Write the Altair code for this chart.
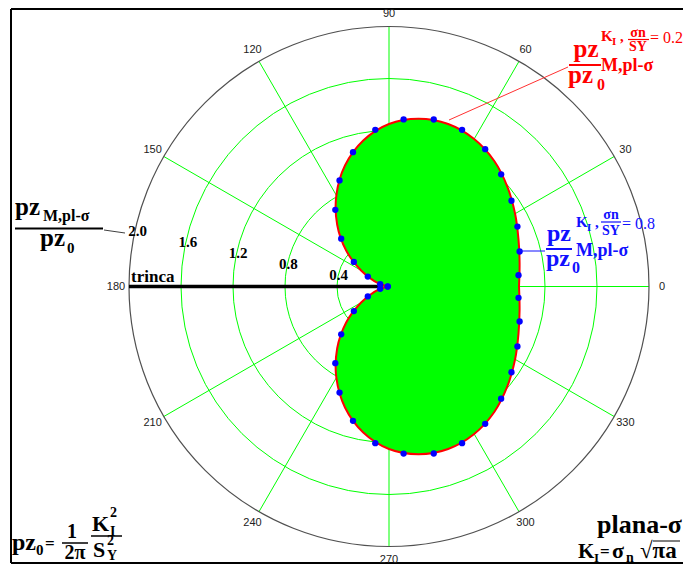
import altair as alt
import pandas as pd

# ---------------- data ----------------
ring_r = [0.4, 0.8, 1.2, 1.6]
outer_r = [2.0]
spoke_deg = [0, 30, 60, 90, 120, 150, 180, 210, 240, 270, 300, 330]
angle_text = ["0", "30", "60", "90", "120", "150", "180", "210", "240", "270", "300", "330"]
radial_vals = [0.4, 0.8, 1.2, 1.6, 2.0]
radial_text = ["0.4", "0.8", "1.2", "1.6", "2.0"]

# red curve  (sigma_n / S_Y = 0.2), every 10 degrees
red_deg = [0, 10, 20, 30, 40, 50, 60, 70, 80, 90, 100, 110, 120, 130, 140, 150, 160, 170, 180,
           190, 200, 210, 220, 230, 240, 250, 260, 270, 280, 290, 300, 310, 320, 330, 340, 350, 360]
red_r = [1.00, 1.02, 1.06, 1.12, 1.19, 1.26, 1.31, 1.33, 1.31, 1.25, 1.14, 0.99, 0.81, 0.62, 0.43, 0.25, 0.12, 0.03, 0.00,
         0.03, 0.12, 0.25, 0.43, 0.62, 0.81, 0.99, 1.14, 1.25, 1.31, 1.33, 1.31, 1.26, 1.19, 1.12, 1.06, 1.02, 1.00]

# blue dots (sigma_n / S_Y = 0.8)
blue_deg = [5, 15, 25, 35, 45, 55, 65, 75, 85, 95, 105, 115, 125, 135, 145, 155, 165, 175,
            185, 195, 205, 215, 225, 235, 245, 255, 265, 275, 285, 295, 305, 315, 325, 335, 345, 355]
blue_r = [1.00, 1.04, 1.09, 1.15, 1.22, 1.29, 1.33, 1.33, 1.29, 1.21, 1.07, 0.90, 0.72, 0.52, 0.33, 0.18, 0.07, 0.01,
          0.01, 0.07, 0.18, 0.33, 0.52, 0.72, 0.90, 1.07, 1.21, 1.29, 1.33, 1.33, 1.29, 1.22, 1.15, 1.09, 1.04, 1.00]

crack_from = [2.0]
crack_to = [0.05]

# ---------------- layout ----------------
PAD_L = 3
W, H = 672, 556
DY = -6                      # vertical shift so the whole polar fits the window
CX_PAGE, CY_PAGE, PPU = 389.0, 292.5 + DY, 130.0
LABEL_R = 2.1
cx = CX_PAGE - 8 - PAD_L
cy = CY_PAGE - 8
xs = alt.Scale(domain=[-cx / PPU, (W - cx) / PPU], nice=False, zero=False)
ys = alt.Scale(domain=[-(H - cy) / PPU, cy / PPU], nice=False, zero=False)

SERIF = "Liberation Serif"
SANS = "Liberation Sans"
RED = "#ff0000"
BLUE = "#1010ff"
GREEN = "#00ff00"


def px(x):
    return x - 8 - PAD_L


def py(y):
    return y - 8


one = alt.Data(values=[{"k": 0}])


def txt(t, x, y, size, color="black", align="left", weight="bold", font=SERIF, dy=DY):
    return alt.Chart(one).mark_text(
        text=t, fontSize=size, color=color, align=align, baseline="alphabetic",
        fontWeight=weight, font=font
    ).encode(x=alt.value(px(x)), y=alt.value(py(y + dy)))


def seg(x1, y1, x2, y2, color="black", width=1.0, dy=DY):
    return alt.Chart(one).mark_rule(color=color, strokeWidth=width).encode(
        x=alt.value(px(x1)), y=alt.value(py(y1 + dy)), x2=alt.value(px(x2)), y2=alt.value(py(y2 + dy))
    )


def XY(xf, yf):
    return dict(x=alt.X(xf, scale=xs, axis=None), y=alt.Y(yf, scale=ys, axis=None))


layers = []

# frame (top, left, bottom)
layers += [seg(11, 9, 700, 9, width=2, dy=0), seg(11, 9, 11, 563, width=2, dy=0),
           seg(11, 563, 700, 563, width=2, dy=0)]

# grid rings
rings = alt.Chart(pd.DataFrame({"r": ring_r})).transform_calculate(
    x0="0", y0="0", sz=f"pow(2*datum.r*{PPU}, 2)"
).mark_point(shape="circle", filled=False, color=GREEN, strokeWidth=1, opacity=1).encode(
    **XY("x0:Q", "y0:Q"), size=alt.Size("sz:Q", scale=None, legend=None)
)
layers.append(rings)

# spokes
spokes = alt.Chart(pd.DataFrame({"a": spoke_deg})).transform_calculate(
    x0="0", y0="0",
    x1=f"{outer_r[0]}*cos(datum.a*PI/180)", y1=f"{outer_r[0]}*sin(datum.a*PI/180)"
).mark_rule(color=GREEN, strokeWidth=1).encode(
    **XY("x0:Q", "y0:Q"), x2="x1:Q", y2="y1:Q"
)
layers.append(spokes)

# outer ring
outer = alt.Chart(pd.DataFrame({"r": outer_r})).transform_calculate(
    x0="0", y0="0", sz=f"pow(2*datum.r*{PPU}, 2)"
).mark_point(shape="circle", filled=False, color="#505050", strokeWidth=1.2, opacity=1).encode(
    **XY("x0:Q", "y0:Q"), size=alt.Size("sz:Q", scale=None, legend=None)
)
layers.append(outer)

# angle labels
alab = alt.Chart(pd.DataFrame({"a": spoke_deg, "t": angle_text})).transform_calculate(
    x0=f"{LABEL_R}*cos(datum.a*PI/180)", y0=f"{LABEL_R}*sin(datum.a*PI/180)"
).mark_text(font=SANS, fontSize=11, color="#222222", align="center", baseline="middle").encode(
    **XY("x0:Q", "y0:Q"), text="t:N"
)
layers.append(alab)

# crack
crack = alt.Chart(pd.DataFrame({"a": crack_from, "b": crack_to})).transform_calculate(
    x0="-datum.a", x1="-datum.b", y0="0"
).mark_rule(color="black", strokeWidth=3.5).encode(**XY("x0:Q", "y0:Q"), x2="x1:Q")
layers.append(crack)

# plastic zone fill and outline
red_df = pd.DataFrame({"a": red_deg, "r": red_r})
shape_base = alt.Chart(red_df).transform_calculate(
    x0="datum.r*cos(datum.a*PI/180)", y0="datum.r*sin(datum.a*PI/180)"
)
fill = shape_base.mark_line(filled=True, color=GREEN, interpolate="cardinal", strokeWidth=0).encode(
    **XY("x0:Q", "y0:Q"), order="a:Q"
)
outline = shape_base.mark_line(color=RED, strokeWidth=2, interpolate="cardinal").encode(
    **XY("x0:Q", "y0:Q"), order="a:Q"
)
layers += [fill, outline]

dots = alt.Chart(pd.DataFrame({"a": blue_deg, "r": blue_r})).transform_calculate(
    x0="datum.r*cos(datum.a*PI/180)", y0="datum.r*sin(datum.a*PI/180)"
).mark_circle(color="#0000ff", size=40, opacity=1).encode(**XY("x0:Q", "y0:Q"))
layers.append(dots)

# radial labels
rlab = alt.Chart(pd.DataFrame({"v": radial_vals, "t": radial_text})).transform_calculate(
    x0="0.99*datum.v*cos(167.5*PI/180)", y0="0.99*datum.v*sin(167.5*PI/180)"
).mark_text(font=SERIF, fontWeight="bold", fontSize=15, color="black", align="center", baseline="middle").encode(
    **XY("x0:Q", "y0:Q"), text="t:N"
)
layers.append(rlab)

# "trinca"
layers.append(txt("trinca", 131, 288, 17))

# left axis title
layers += [
    txt("pz", 15, 221, 25),
    txt("M,pl-σ", 43, 227, 16),
    seg(15, 234.5, 103, 234.5, width=2),
    txt("pz", 40, 252, 25),
    txt("0", 67, 259, 15),
    seg(104, 236, 125, 239, color="#404040", width=1),
]

# red annotation
layers += [
    seg(449, 126, 568, 73, color="#ff3030", width=1),
    txt("pz", 586, 63, 25, RED, align="center"),
    seg(569, 71, 601, 71, color=RED, width=2),
    txt("pz", 568, 89, 25, RED),
    txt("0", 597, 96, 16, RED),
    txt("M,pl-σ", 601, 77, 18, RED),
    txt("K", 601, 47, 15, RED),
    txt("I", 612, 51, 11, RED),
    txt(",", 620, 47, 15, RED),
    txt("σn", 638, 43, 14, RED, align="center"),
    seg(628, 45.5, 649, 45.5, color=RED, width=1.2),
    txt("SY", 638, 57, 14, RED, align="center"),
    txt("= 0.2", 650, 49, 16, RED, weight="normal"),
]

# blue annotation
layers += [
    seg(519, 257, 545, 257, color=BLUE, width=1),
    txt("pz", 559, 247, 24, BLUE, align="center"),
    seg(546, 255, 572, 255, color=BLUE, width=2),
    txt("pz", 546, 272, 24, BLUE),
    txt("0", 572, 279, 16, BLUE),
    txt("M,pl-σ", 576, 262, 18, BLUE),
    txt("K", 576, 233, 15, BLUE),
    txt("I", 587, 237, 11, BLUE),
    txt(",", 595, 233, 15, BLUE),
    txt("σn", 611, 225, 14, BLUE, align="center"),
    seg(601, 228, 621, 228, color=BLUE, width=1.2),
    txt("SY", 611, 241, 14, BLUE, align="center"),
    txt("= 0.8", 622, 235, 16, BLUE, weight="normal"),
]

# bottom-left formula
s = -12
layers += [
    txt("pz", 12, 562, 24, dy=s),
    txt("0", 36, 567, 15, dy=s),
    txt("=", 45, 561, 17, dy=s),
    txt("1", 72, 550, 20, align="center", dy=s),
    seg(62, 555, 88, 555, width=1.5, dy=s),
    txt("2π", 75, 571, 20, align="center", dy=s),
    txt("K", 92, 543, 22, dy=s),
    txt("2", 110, 529, 14, dy=s),
    txt("I", 110, 548, 14, dy=s),
    seg(91, 548, 122, 548, width=1.5, dy=s),
    txt("S", 93, 569, 22, dy=s),
    txt("2", 107, 557, 14, dy=s),
    txt("Y", 107, 572, 14, dy=s),
]

# bottom-right
s = -8
layers += [
    txt("plana-σ", 682, 541, 26, align="right", dy=s),
    txt("K", 578, 566, 21, dy=s),
    txt("I", 594, 570, 13, dy=s),
    txt("=", 600, 565, 17, dy=s),
    txt("σ", 612, 566, 22, dy=s),
    txt("n", 626, 570, 14, dy=s),
    txt("√πa", 640, 566, 23, dy=s),
    seg(653, 549, 680, 549, width=1, dy=s),
]

chart = alt.layer(*layers).properties(
    width=W, height=H,
    autosize=alt.AutoSizeParams(type="none"),
    padding={"left": PAD_L, "top": 0, "right": 0, "bottom": 0},
).configure_view(stroke=None)

chart.save("out.html", embed_options={"renderer": "svg", "actions": False})
